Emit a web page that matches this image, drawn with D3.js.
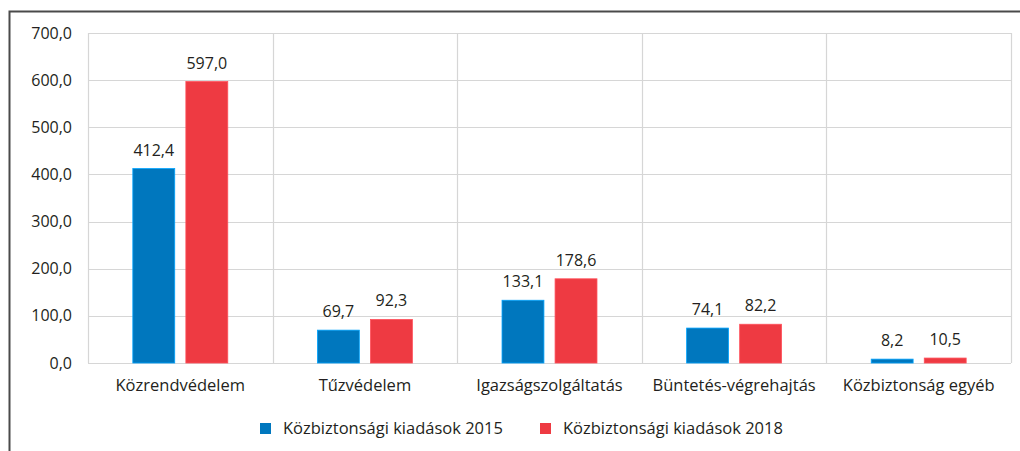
<!DOCTYPE html>
<html>
<head>
<meta charset="utf-8">
<script src="https://cdn.jsdelivr.net/npm/d3@7"></script>
<style>
  html, body { margin: 0; padding: 0; background: #fff; }
  svg text { font-family: "Open Sans", "Noto Sans", sans-serif; fill: #231f20; }
</style>
</head>
<body>
<svg id="chart" width="1020" height="451"></svg>
<script>
// chart data
var categories = ['Közrendvédelem', 'Tűzvédelem', 'Igazságszolgáltatás', 'Büntetés-végrehajtás', 'Közbiztonság egyéb'];
var seriesNames = ['Közbiztonsági kiadások 2015', 'Közbiztonsági kiadások 2018'];
var values2015 = [412.4, 69.7, 133.1, 74.1, 8.2];
var values2018 = [597.0, 92.3, 178.6, 82.2, 10.5];
var yTicks = [0, 100, 200, 300, 400, 500, 600, 700];
var colors = ['#0077be', '#ee3a42'];

var huLocale = d3.formatLocale({decimal: ',', thousands: ' ', grouping: [3], currency: ['', ' Ft']});
var fmt = huLocale.format('.1f');

var svg = d3.select('#chart');
var margin = {top: 33, right: 9, bottom: 88, left: 88};
var width = 1020 - margin.left - margin.right,
    height = 451 - margin.top - margin.bottom;

// outer frame (top + left rule)
svg.append('path')
    .attr('d', 'M9.5,451 V11.5 H1020')
    .attr('fill', 'none')
    .attr('stroke', '#4a4a4a')
    .attr('stroke-width', 2);

var g = svg.append('g').attr('transform', 'translate(' + margin.left + ',' + margin.top + ')');

var x0 = d3.scaleBand().domain(categories).range([0, width]).padding(0);
var x1 = d3.scaleBand().domain(seriesNames).range([0, x0.bandwidth()])
    .paddingInner(0.21).paddingOuter(0.845);
var y = d3.scaleLinear().domain([0, 700]).range([height, 0]);

// horizontal grid
g.append('g')
    .selectAll('line')
    .data(yTicks)
    .join('line')
    .attr('x1', 0).attr('x2', width)
    .attr('y1', function(d) { return Math.round(y(d)) + 0.5; })
    .attr('y2', function(d) { return Math.round(y(d)) + 0.5; })
    .attr('stroke', '#d6d6d6')
    .attr('stroke-width', 1.2);

// vertical grid at category boundaries
var bounds = categories.map(function(c) { return x0(c); }).concat([width]);
g.append('g')
    .selectAll('line')
    .data(bounds)
    .join('line')
    .attr('x1', function(d) { return Math.round(d) + 0.5; })
    .attr('x2', function(d) { return Math.round(d) + 0.5; })
    .attr('y1', 0).attr('y2', height)
    .attr('stroke', '#d6d6d6')
    .attr('stroke-width', 1.2);

// y axis labels
var yAxis = d3.axisLeft(y).tickValues(yTicks).tickFormat(fmt).tickSize(0).tickPadding(16);
var ya = g.append('g').call(yAxis);
ya.select('.domain').remove();
ya.selectAll('text')
    .attr('font-size', '16px')
    .attr('fill', '#231f20')
    .style('font-family', '"Open Sans", sans-serif');

// x axis labels
var xAxis = d3.axisBottom(x0).tickSize(0).tickPadding(16);
var xa = g.append('g').attr('transform', 'translate(0,' + height + ')').call(xAxis);
xa.select('.domain').remove();
xa.selectAll('text')
    .attr('font-size', '16.5px')
    .attr('fill', '#231f20')
    .style('font-family', '"Open Sans", sans-serif');

// bars
var rows = categories.map(function(c, i) {
    return {cat: c, vals: [
        {name: seriesNames[0], value: values2015[i], color: colors[0]},
        {name: seriesNames[1], value: values2018[i], color: colors[1]}
    ]};
});

var groups = g.append('g')
    .selectAll('g')
    .data(rows)
    .join('g')
    .attr('transform', function(d) { return 'translate(' + x0(d.cat) + ',0)'; });

groups.selectAll('rect')
    .data(function(d) { return d.vals; })
    .join('rect')
    .attr('x', function(d) { return x1(d.name); })
    .attr('y', function(d) { return y(d.value); })
    .attr('width', x1.bandwidth())
    .attr('height', function(d) { return height - y(d.value); })
    .attr('fill', function(d) { return d.color; })
    .attr('stroke', function(d) { return d3.color(d.color).brighter(0.9); })
    .attr('stroke-width', 0.8);

groups.selectAll('text')
    .data(function(d) { return d.vals; })
    .join('text')
    .attr('x', function(d) { return x1(d.name) + x1.bandwidth() / 2; })
    .attr('y', function(d) { return y(d.value) - 13; })
    .attr('text-anchor', 'middle')
    .attr('font-size', '16px')
    .text(function(d) { return fmt(d.value); });

// legend
var legendX = [260, 540];
var legend = svg.append('g')
    .selectAll('g')
    .data(seriesNames)
    .join('g')
    .attr('transform', function(d, i) { return 'translate(' + legendX[i] + ',423)'; });

legend.append('rect')
    .attr('width', 11).attr('height', 11)
    .attr('fill', function(d, i) { return colors[i]; });

legend.append('text')
    .attr('x', 23).attr('y', 11)
    .attr('font-size', '16.5px')
    .text(function(d) { return d; });
</script>
</body>
</html>
